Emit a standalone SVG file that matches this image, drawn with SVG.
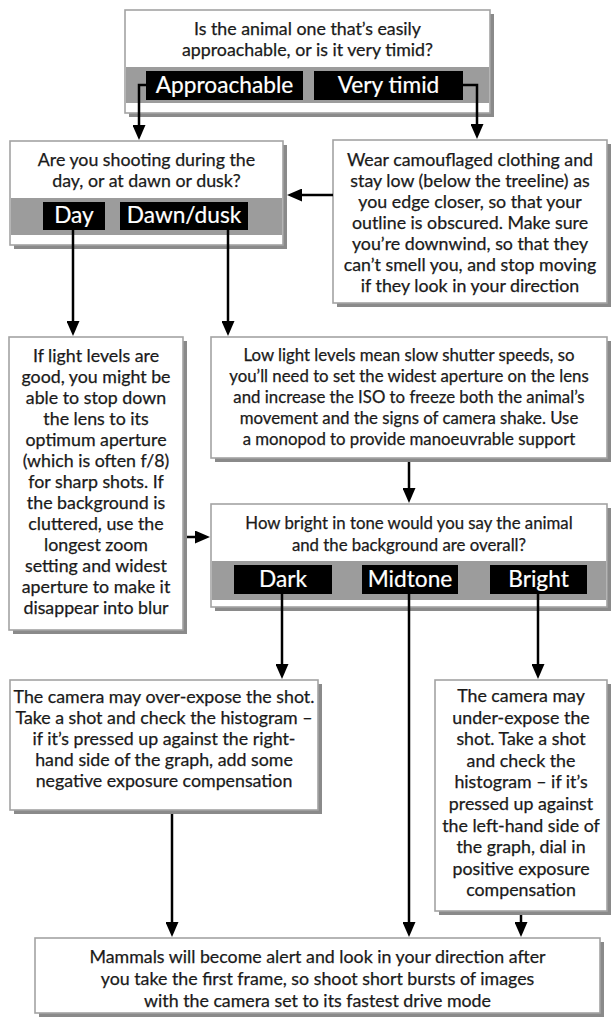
<svg xmlns="http://www.w3.org/2000/svg" width="611" height="1025" viewBox="0 0 611 1025">
  <style>
    .shadow { fill: #8a8a8a; }
    .box { fill: #ffffff; stroke: #a3a3a3; stroke-width: 1.6; }
    .band { fill: #9c9c9c; }
    .tag { fill: #000000; }
    .txt { font-family: Lato, "Liberation Sans", sans-serif; font-size: 17.8px; fill: #1a1a1a; stroke: #1a1a1a; stroke-width: 0.25; text-anchor: middle; }
    .sm { font-size: 16.8px; }
    .tagtxt { font-family: Lato, "Liberation Sans", sans-serif; font-size: 22.7px; fill: #ffffff; stroke: #ffffff; stroke-width: 0.2; text-anchor: middle; }
    .wire { fill: none; stroke: #000000; stroke-width: 2.5; }
  </style>
  <defs>
    <marker id="head" markerUnits="userSpaceOnUse" markerWidth="15" markerHeight="13" refX="0" refY="6.5" orient="auto">
      <path d="M0,0 L15,6.5 L0,13 z" fill="#000000"/>
    </marker>
  </defs>
  <rect width="611" height="1025" fill="#ffffff"/>

  <!-- Q1: approachable or timid -->
  <g id="q-approach">
    <rect class="shadow" x="129" y="14" width="365" height="103"/>
    <rect class="box" x="125" y="10" width="365" height="103"/>
    <rect class="band" x="126" y="67" width="363" height="36"/>
    <text class="txt" x="307.5" y="35">Is the animal one that’s easily</text>
    <text class="txt" x="307.5" y="56">approachable, or is it very timid?</text>
    <rect class="tag" x="146" y="71" width="157" height="29"/>
    <text class="tagtxt" x="224.5" y="93">Approachable</text>
    <rect class="tag" x="314" y="71" width="149" height="29"/>
    <text class="tagtxt" x="388.5" y="93">Very timid</text>
  </g>

  <!-- Q2: day or dawn/dusk -->
  <g id="q-time">
    <rect class="shadow" x="14" y="145" width="273" height="104"/>
    <rect class="box" x="10" y="141" width="273" height="104"/>
    <rect class="band" x="11" y="198" width="271" height="37"/>
    <text class="txt" x="146.5" y="166">Are you shooting during the</text>
    <text class="txt" x="146.5" y="187">day, or at dawn or dusk?</text>
    <rect class="tag" x="43" y="202" width="62" height="28"/>
    <text class="tagtxt" x="74" y="223">Day</text>
    <rect class="tag" x="120" y="202" width="128" height="28"/>
    <text class="tagtxt" x="184" y="223">Dawn/dusk</text>
  </g>

  <!-- Timid advice -->
  <g id="timid-advice">
    <rect class="shadow" x="337" y="144" width="274" height="163"/>
    <rect class="box" x="333" y="140" width="274" height="163"/>
    <text class="txt" x="470" y="166">Wear camouflaged clothing and</text>
    <text class="txt" x="470" y="187">stay low (below the treeline) as</text>
    <text class="txt" x="470" y="208">you edge closer, so that your</text>
    <text class="txt" x="470" y="229">outline is obscured. Make sure</text>
    <text class="txt" x="470" y="250">you’re downwind, so that they</text>
    <text class="txt" x="470" y="271">can’t smell you, and stop moving</text>
    <text class="txt" x="470" y="292">if they look in your direction</text>
  </g>

  <!-- Daylight advice -->
  <g id="day-advice">
    <rect class="shadow" x="13" y="341" width="174" height="293"/>
    <rect class="box" x="9" y="337" width="174" height="293"/>
    <text class="txt" x="96" y="362">If light levels are</text>
    <text class="txt" x="96" y="383">good, you might be</text>
    <text class="txt" x="96" y="404">able to stop down</text>
    <text class="txt" x="96" y="425">the lens to its</text>
    <text class="txt" x="96" y="446">optimum aperture</text>
    <text class="txt" x="96" y="467">(which is often f/8)</text>
    <text class="txt" x="96" y="488">for sharp shots. If</text>
    <text class="txt" x="96" y="509">the background is</text>
    <text class="txt" x="96" y="530">cluttered, use the</text>
    <text class="txt" x="96" y="551">longest zoom</text>
    <text class="txt" x="96" y="572">setting and widest</text>
    <text class="txt" x="96" y="593">aperture to make it</text>
    <text class="txt" x="96" y="614">disappear into blur</text>
  </g>

  <!-- Low light advice -->
  <g id="lowlight-advice">
    <rect class="shadow" x="215" y="341" width="396" height="121"/>
    <rect class="box" x="211" y="337" width="396" height="121"/>
    <text class="txt sm" x="409" y="361">Low light levels mean slow shutter speeds, so</text>
    <text class="txt sm" x="409" y="382">you’ll need to set the widest aperture on the lens</text>
    <text class="txt sm" x="409" y="403">and increase the ISO to freeze both the animal’s</text>
    <text class="txt sm" x="409" y="424">movement and the signs of camera shake. Use</text>
    <text class="txt sm" x="409" y="445">a monopod to provide manoeuvrable support</text>
  </g>

  <!-- Q3: tone -->
  <g id="q-tone">
    <rect class="shadow" x="215" y="508" width="396" height="103"/>
    <rect class="box" x="211" y="504" width="396" height="103"/>
    <rect class="band" x="212" y="561" width="394" height="39"/>
    <text class="txt sm" x="409" y="529">How bright in tone would you say the animal</text>
    <text class="txt sm" x="409" y="551">and the background are overall?</text>
    <rect class="tag" x="234" y="565" width="98" height="29"/>
    <text class="tagtxt" x="283" y="587">Dark</text>
    <rect class="tag" x="362" y="565" width="96" height="29"/>
    <text class="tagtxt" x="410" y="587">Midtone</text>
    <rect class="tag" x="490" y="565" width="97" height="29"/>
    <text class="tagtxt" x="538.5" y="587">Bright</text>
  </g>

  <!-- Dark advice -->
  <g id="dark-advice">
    <rect class="shadow" x="14" y="684" width="308" height="130"/>
    <rect class="box" x="10" y="680" width="308" height="130"/>
    <text class="txt" x="164" y="703">The camera may over-expose the shot.</text>
    <text class="txt" x="164" y="724">Take a shot and check the histogram –</text>
    <text class="txt" x="164" y="745">if it’s pressed up against the right-</text>
    <text class="txt" x="164" y="766">hand side of the graph, add some</text>
    <text class="txt" x="164" y="787">negative exposure compensation</text>
  </g>

  <!-- Bright advice -->
  <g id="bright-advice">
    <rect class="shadow" x="439" y="684" width="172" height="231"/>
    <rect class="box" x="435" y="680" width="172" height="231"/>
    <text class="txt" x="521" y="702">The camera may</text>
    <text class="txt" x="521" y="723.6">under-expose the</text>
    <text class="txt" x="521" y="745.2">shot. Take a shot</text>
    <text class="txt" x="521" y="766.8">and check the</text>
    <text class="txt" x="521" y="788.4">histogram – if it’s</text>
    <text class="txt" x="521" y="810">pressed up against</text>
    <text class="txt" x="521" y="831.6">the left-hand side of</text>
    <text class="txt" x="521" y="853.2">the graph, dial in</text>
    <text class="txt" x="521" y="874.8">positive exposure</text>
    <text class="txt" x="521" y="896.4">compensation</text>
  </g>

  <!-- Final advice -->
  <g id="final-advice">
    <rect class="shadow" x="39" y="942" width="565" height="75"/>
    <rect class="box" x="35" y="938" width="565" height="75"/>
    <text class="txt" x="317.5" y="963">Mammals will become alert and look in your direction after</text>
    <text class="txt" x="317.5" y="985">you take the first frame, so shoot short bursts of images</text>
    <text class="txt" x="317.5" y="1007">with the camera set to its fastest drive mode</text>
  </g>

  <!-- Connectors -->
  <g id="connectors">
    <polyline class="wire" points="146,85 139,85 139,125" marker-end="url(#head)"/>
    <polyline class="wire" points="463,85 477,85 477,124" marker-end="url(#head)"/>
    <line class="wire" x1="333" y1="195" x2="302" y2="195" marker-end="url(#head)"/>
    <line class="wire" x1="73" y1="230" x2="73" y2="321" marker-end="url(#head)"/>
    <line class="wire" x1="228" y1="230" x2="228" y2="321" marker-end="url(#head)"/>
    <line class="wire" x1="409" y1="462" x2="409" y2="488" marker-end="url(#head)"/>
    <line class="wire" x1="187" y1="537" x2="195" y2="537" marker-end="url(#head)"/>
    <line class="wire" x1="282" y1="594" x2="282" y2="664" marker-end="url(#head)"/>
    <line class="wire" x1="409" y1="594" x2="409" y2="922" marker-end="url(#head)"/>
    <line class="wire" x1="538" y1="594" x2="538" y2="664" marker-end="url(#head)"/>
    <line class="wire" x1="172" y1="814" x2="172" y2="922" marker-end="url(#head)"/>
    <line class="wire" x1="521" y1="915" x2="521" y2="922" marker-end="url(#head)"/>
  </g>
</svg>
